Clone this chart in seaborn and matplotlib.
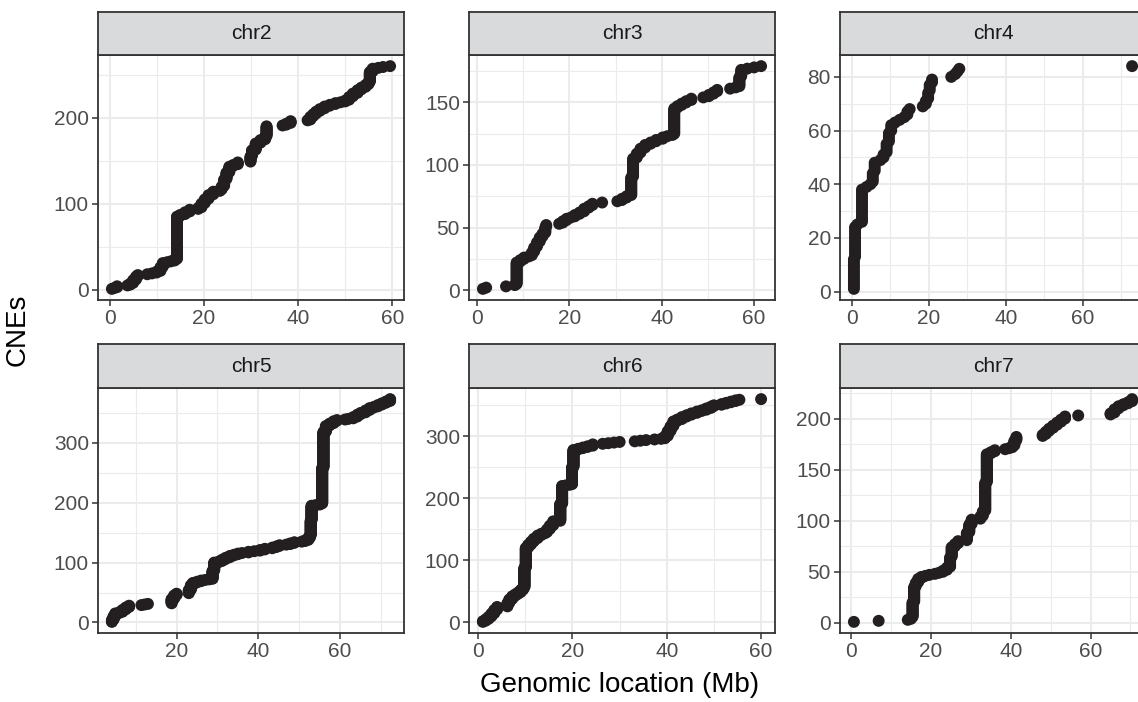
import numpy as np
import pandas as pd
import matplotlib
matplotlib.use("Agg")
import matplotlib.pyplot as plt
from matplotlib.ticker import MultipleLocator
import seaborn as sns

# CNE loci per chromosome: position (Mb) and number of CNEs found at that locus
chr2_pos = [0.5, 1.0, 1.6, 3.8, 4.4, 5.0, 5.6, 6.0, 8.0, 9.0, 10.0, 10.8, 11.3, 12.2, 13.0, 13.8,
            14.3, 15.0, 16.0, 17.0, 18.8, 19.5, 20.2, 21.0, 22.0, 23.4, 23.8, 24.3, 24.8, 25.4,
            26.2, 27.2, 29.9, 30.2, 31.0, 32.0, 33.0, 33.3, 36.7, 37.5, 38.4, 42.0, 42.6, 43.2,
            43.8, 44.6, 45.6, 46.7, 47.9, 49.0, 50.0, 50.8, 51.6, 52.6, 53.4, 54.3, 54.9, 55.2,
            55.8, 57.0, 58.0, 59.5]
chr2_n = [1, 1, 2, 1, 2, 4, 4, 2, 1, 1, 2, 5, 5, 1, 1, 2,
          50, 2, 3, 3, 2, 5, 5, 5, 4, 2, 4, 8, 8, 7,
          2, 3, 7, 7, 8, 4, 4, 12, 1, 2, 3, 1, 4, 3,
          3, 3, 3, 2, 2, 1, 2, 4, 4, 4, 3, 3, 3, 12,
          4, 1, 1, 1]

chr3_pos = [1.3, 2.0, 6.3, 8.2, 8.6, 9.4, 10.2, 11.3, 11.9, 12.4, 13.0, 13.6, 14.2, 14.8, 15.0,
            17.8, 18.6, 19.4, 20.3, 21.2, 22.2, 23.2, 24.2, 25.0, 27.1, 30.4, 31.4, 32.4, 33.4,
            33.8, 34.6, 35.4, 36.4, 37.6, 38.8, 40.2, 41.2, 42.3, 42.7, 43.4, 44.3, 45.3, 46.4,
            49.0, 50.2, 51.2, 52.0, 54.8, 56.0, 56.8, 57.2, 58.5, 60.0, 61.5]
chr3_n = [1, 1, 1, 1, 18, 2, 2, 1, 3, 4, 4, 4, 3, 5, 2,
          1, 2, 2, 1, 2, 2, 3, 2, 2, 1, 1, 2, 2, 15,
          15, 4, 4, 3, 2, 2, 2, 1, 1, 21, 2, 2, 2, 2,
          1, 2, 2, 2, 1, 1, 8, 6, 1, 1, 1]

chr4_pos = [0.5, 0.8, 1.4, 2.6, 3.8, 4.8, 5.4, 5.9, 7.4, 8.2, 9.0, 9.6, 10.2, 11.2, 12.4, 13.6,
            14.4, 15.0, 18.4, 19.2, 19.8, 20.2, 20.8, 25.8, 26.8, 27.4, 27.9, 72.8]
chr4_n = [12, 12, 1, 13, 1, 1, 4, 4, 1, 2, 4, 4, 3, 1, 1, 1,
          2, 1, 1, 2, 3, 3, 2, 1, 1, 1, 1, 1]

chr5_pos = [4.2, 4.6, 5.0, 6.0, 6.8, 7.6, 8.4, 11.4, 12.2, 13.0, 18.8, 19.4, 20.0, 23.0, 23.5,
            24.0, 25.0, 26.0, 27.0, 28.0, 28.8, 29.2, 30.4, 31.2, 32.0, 33.0, 34.0, 35.0, 36.0,
            37.6, 39.0, 40.4, 41.6, 43.4, 44.4, 45.2, 46.8, 47.8, 48.8, 50.6, 51.4, 52.2, 52.6,
            52.8, 53.0, 54.0, 55.0, 55.6, 55.9, 56.5, 57.4, 58.4, 59.2, 61.2, 62.0, 63.2, 64.2,
            65.0, 66.2, 67.2, 68.2, 69.2, 70.2, 71.2, 72.2]
chr5_n = [4, 6, 5, 2, 4, 4, 3, 1, 1, 1, 8, 6, 3, 6, 8,
          4, 2, 2, 1, 1, 14, 14, 2, 3, 3, 3, 2, 2, 1,
          2, 1, 2, 2, 2, 2, 2, 1, 2, 2, 1, 2, 4, 4,
          25, 25, 1, 2, 60, 60, 10, 4, 4, 2, 1, 1, 3, 4,
          3, 4, 4, 2, 3, 3, 3, 4]

chr6_pos = [1.0, 1.6, 2.2, 2.8, 3.4, 4.0, 6.2, 6.6, 7.2, 7.8, 8.4, 9.0, 9.5, 9.8, 10.1, 10.6,
            11.2, 11.8, 12.6, 13.4, 14.2, 14.6, 15.2, 15.9, 17.4, 17.8, 18.6, 19.4, 19.9, 20.2,
            21.2, 22.2, 23.2, 24.3, 26.4, 27.6, 28.8, 30.0, 33.2, 34.4, 35.6, 37.4, 38.8, 39.6,
            40.2, 40.8, 41.4, 42.2, 43.2, 44.2, 45.2, 46.4, 47.4, 48.4, 49.4, 50.0, 51.6, 52.6,
            53.6, 54.6, 55.4, 60.0]
chr6_n = [2, 3, 4, 5, 6, 5, 6, 6, 5, 3, 3, 4, 4, 32, 32, 5,
          5, 5, 5, 3, 2, 5, 6, 7, 28, 29, 1, 1, 28, 28,
          2, 2, 2, 3, 1, 1, 1, 1, 1, 1, 1, 1, 1, 4,
          8, 8, 8, 3, 4, 3, 3, 3, 2, 3, 3, 2, 2, 2,
          2, 2, 1, 1]

chr7_pos = [0.7, 6.9, 14.2, 15.0, 15.4, 15.8, 16.2, 16.8, 17.6, 18.6, 19.6, 21.0, 22.0, 23.0, 24.0,
            24.8, 25.2, 26.0, 26.8, 29.0, 29.6, 30.2, 32.4, 33.0, 33.6, 34.0, 35.0, 36.0, 38.6,
            39.6, 40.4, 40.9, 41.4, 48.0, 48.8, 49.6, 50.6, 51.6, 52.6, 53.6, 56.9, 65.0, 66.0,
            67.0, 68.2, 69.4, 70.4]
chr7_n = [1, 1, 1, 2, 15, 15, 4, 4, 2, 1, 1, 1, 1, 2, 3,
          10, 10, 3, 3, 8, 8, 5, 3, 5, 28, 28, 2, 2, 1,
          1, 2, 5, 4, 2, 3, 3, 3, 3, 3, 3, 1, 2, 4,
          3, 2, 2, 3]

chromosomes = ["chr2", "chr3", "chr4", "chr5", "chr6", "chr7"]
loci = {
    "chr2": (chr2_pos, chr2_n), "chr3": (chr3_pos, chr3_n), "chr4": (chr4_pos, chr4_n),
    "chr5": (chr5_pos, chr5_n), "chr6": (chr6_pos, chr6_n), "chr7": (chr7_pos, chr7_n),
}

# One row per CNE: its location and its running count along the chromosome
frames = []
for chrom in chromosomes:
    pos, n = loci[chrom]
    x = np.repeat(pos, n)
    frames.append(pd.DataFrame({"chrom": chrom, "location": x,
                                "CNEs": np.arange(1, len(x) + 1)}))
data = pd.concat(frames, ignore_index=True)

y_step = {"chr2": 100, "chr3": 50, "chr4": 20, "chr5": 100, "chr6": 100, "chr7": 50}

sns.set_theme(style="white")
plt.rcParams["font.family"] = ["Liberation Sans", "DejaVu Sans"]

W, H = 1138, 702
fig = plt.figure(figsize=(W / 100, H / 100), dpi=100)

col_left = [98, 469, 840]
panel_w = 306
rows = [(12, 55, 300), (344, 388, 633)]  # strip top, panel top, panel bottom

border = "#333333"
grid = "#EBEBEB"

for i, chrom in enumerate(chromosomes):
    r, c = divmod(i, 3)
    s_top, p_top, p_bot = rows[r]
    x0 = col_left[c]
    ax = fig.add_axes([x0 / W, 1 - p_bot / H, panel_w / W, (p_bot - p_top) / H])
    sax = fig.add_axes([x0 / W, 1 - p_top / H, panel_w / W, (p_top - s_top) / H])

    sub = data[data["chrom"] == chrom]
    sns.scatterplot(data=sub, x="location", y="CNEs", ax=ax, color="#231f20",
                    s=74, linewidth=0, edgecolor="none", legend=False, zorder=3)

    xmin, xmax = sub["location"].min(), sub["location"].max()
    ymin, ymax = sub["CNEs"].min(), sub["CNEs"].max()
    px, py = 0.05 * (xmax - xmin), 0.05 * (ymax - ymin)
    ax.set_xlim(xmin - px, xmax + px)
    ax.set_ylim(ymin - py, ymax + py)

    ax.xaxis.set_major_locator(MultipleLocator(20))
    ax.xaxis.set_minor_locator(MultipleLocator(10))
    ax.yaxis.set_major_locator(MultipleLocator(y_step[chrom]))
    ax.yaxis.set_minor_locator(MultipleLocator(y_step[chrom] / 2))
    ax.grid(which="major", color=grid, linewidth=1.5, zorder=0)
    ax.grid(which="minor", color=grid, linewidth=0.8, zorder=0)
    ax.set_axisbelow(True)
    ax.tick_params(axis="both", which="major", direction="out", length=4.5, width=1.1,
                   color=border, labelsize=15, labelcolor="#4D4D4D", pad=2,
                   bottom=True, left=True)
    ax.tick_params(axis="both", which="minor", length=0)
    for sp in ax.spines.values():
        sp.set_color(border)
        sp.set_linewidth(1.3)
    ax.set_xlabel("")
    ax.set_ylabel("")

    sax.set_facecolor("#D9DADC")
    sax.set_xticks([])
    sax.set_yticks([])
    for sp in sax.spines.values():
        sp.set_color(border)
        sp.set_linewidth(1.3)
    sax.text(0.5, 0.5, chrom, ha="center", va="center", fontsize=15, color="#1A1A1A",
             transform=sax.transAxes)

fig.text(620 / W, 1 - 685 / H, "Genomic location (Mb)", ha="center", va="center",
         fontsize=20, color="black")
fig.text(18 / W, 1 - 330 / H, "CNEs", ha="center", va="center", rotation=90,
         fontsize=20, color="black")

fig.savefig("out.png", dpi=100)
